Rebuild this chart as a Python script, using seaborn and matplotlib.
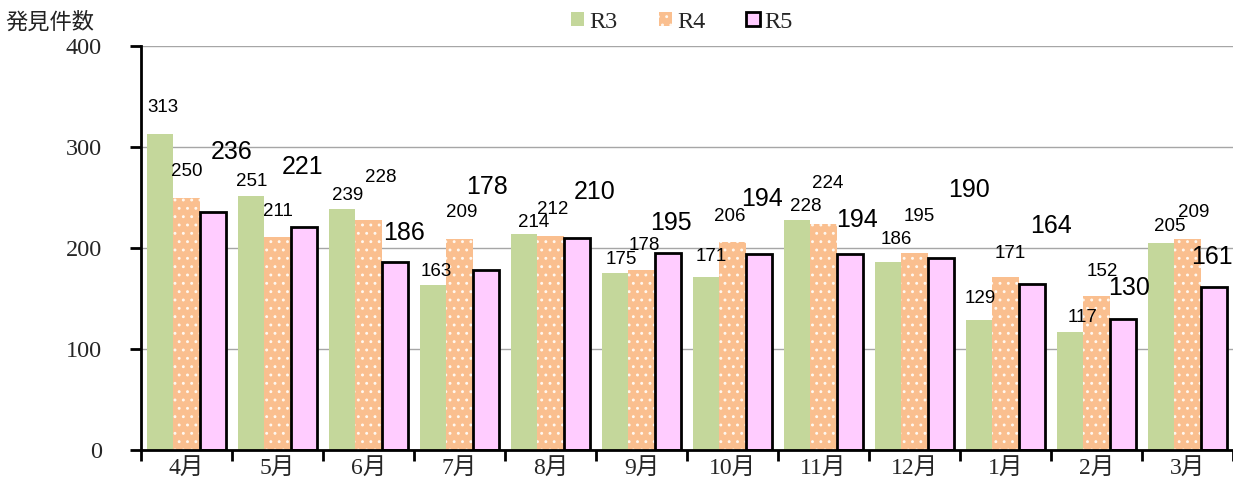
import pandas as pd
import matplotlib
matplotlib.use("Agg")
import matplotlib.pyplot as plt
from matplotlib.patches import Patch
import seaborn as sns

# data
months = ["4月", "5月", "6月", "7月", "8月", "9月", "10月", "11月", "12月", "1月", "2月", "3月"]
years = ["R3", "R4", "R5"]
r3 = [313, 251, 239, 163, 214, 175, 171, 228, 186, 129, 117, 205]
r4 = [250, 211, 228, 209, 212, 178, 206, 224, 195, 171, 152, 209]
r5 = [236, 221, 186, 178, 210, 195, 194, 194, 190, 164, 130, 161]
y_ticks = [0, 100, 200, 300, 400]

# label offsets (pixels) from the top centre of each bar, as placed in the original
r3_dx = [3, 1, 6, 3, 10, 6, 5, 9, 8, 1, 12, 9]
r3_dy = [26, 15, 13, 14, 11, 14, 21, 13, 23, 21, 14, 16]
r4_dx = [0, 0, 12, 2, 2, 3, -3, 4, 5, 5, 6, 6]
r4_dy = [26, 25, 42, 26, 26, 25, 25, 40, 37, 24, 25, 26]
r5_dx = [19, -1, 9, 1, 18, 3, 3, 7, 28, 19, 6, -2]
r5_dy = [60, 60, 29, 83, 46, 30, 55, 34, 68, 58, 31, 30]

colors = {"R3": "#c4d79b", "R4": "#fabf8f", "R5": "#ffccff"}

df = pd.DataFrame({
    "month": months * 3,
    "count": r3 + r4 + r5,
    "year": [y for y in years for _ in months],
})

sns.set_style("white")
plt.rcParams["hatch.linewidth"] = 0.9
serif = ["Liberation Serif", "Noto Sans CJK JP"]

fig = plt.figure(figsize=(12.33, 4.93), dpi=100)
ax = fig.add_axes([141 / 1233, 43 / 493, 1 - 141 / 1233, 404 / 493])

sns.barplot(data=df, x="month", y="count", hue="year", order=months,
            hue_order=years, palette=colors, width=0.87, gap=0,
            saturation=1, legend=False, ax=ax, zorder=2)

# styling of each series
for patch in ax.containers[0]:
    patch.set_edgecolor("none")
for patch in ax.containers[1]:
    patch.set_edgecolor("#fff8f0")
    patch.set_linewidth(0)
    patch.set_hatch("..")
for patch in ax.containers[2]:
    patch.set_edgecolor("black")
    patch.set_linewidth(2)

# data labels
label_sets = [(r3, r3_dx, r3_dy, 13.5), (r4, r4_dx, r4_dy, 13.5), (r5, r5_dx, r5_dy, 18)]
for cont, (vals, dxs, dys, fs) in zip(ax.containers, label_sets):
    for patch, v, dx, dy in zip(cont, vals, dxs, dys):
        xc = patch.get_x() + patch.get_width() / 2
        ax.annotate(str(v), (xc, patch.get_height()), xytext=(dx, dy),
                    textcoords="offset pixels", ha="center", va="center",
                    fontsize=fs, family="Liberation Sans", color="black",
                    annotation_clip=False)

ax.set_xlim(-0.5, len(months) - 0.5)
ax.set_ylim(0, 400)
ax.set_yticks(y_ticks)
ax.set_yticklabels([str(t) for t in y_ticks], family=serif, fontsize=17.5)
ax.yaxis.grid(True, color="#a6a6a6", linewidth=1)
ax.set_axisbelow(True)

# month ticks between groups, labels at group centres
ax.set_xticks([i - 0.5 for i in range(len(months) + 1)])
ax.set_xticklabels([])
ax.set_xticks(range(len(months)), minor=True)
ax.set_xticklabels(months, minor=True, family=serif, fontsize=17)
ax.tick_params(axis="x", which="major", direction="out", length=8, width=2,
               color="black", bottom=True)
ax.tick_params(axis="x", which="minor", length=0, pad=6)
ax.tick_params(axis="y", direction="out", length=8, width=2, color="black",
               left=True, pad=20)

for side in ["top", "right"]:
    ax.spines[side].set_visible(False)
for side in ["left", "bottom"]:
    ax.spines[side].set_color("black")
    ax.spines[side].set_linewidth(2)

ax.set_xlabel("")
ax.set_ylabel("")
fig.text(50 / 1233, 1 - 22 / 493, "発見件数", ha="center", va="center",
         family="Noto Sans CJK JP", fontsize=16, color="#222222")

handles = [
    Patch(facecolor=colors["R3"], edgecolor="none"),
    Patch(facecolor=colors["R4"], edgecolor="#fff8f0", linewidth=0, hatch=".."),
    Patch(facecolor=colors["R5"], edgecolor="black", linewidth=2),
]
fig.legend(handles, years, loc="center", bbox_to_anchor=(682 / 1233, 1 - 22 / 493),
           ncol=3, frameon=False, handlelength=0.55, handleheight=0.55,
           handletextpad=0.2, columnspacing=1.7,
           prop={"family": "Liberation Serif", "size": 17.5})

fig.savefig("out.png", dpi=100)
